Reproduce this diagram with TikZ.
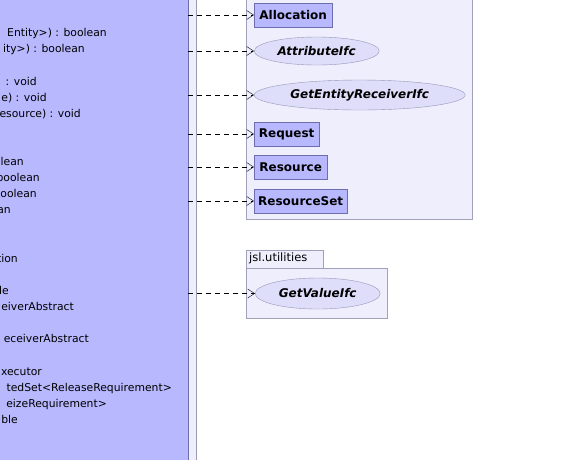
\documentclass[tikz,border=0pt]{standalone}
\usepackage{fontspec}
\setmainfont{DejaVu Sans}
\usetikzlibrary{shapes.geometric,arrows.meta}
\definecolor{classblue}{RGB}{184,184,255}
\definecolor{panelline}{RGB}{110,110,170}
\definecolor{stripfill}{RGB}{238,238,252}
\definecolor{stripline}{RGB}{155,155,180}
\definecolor{pkgfill}{RGB}{238,238,252}
\definecolor{pkgline}{RGB}{160,160,184}
\definecolor{boxline}{RGB}{110,110,175}
\definecolor{ifcfill}{RGB}{222,222,250}
\definecolor{ifcline}{RGB}{150,150,185}

\begin{document}
\begin{tikzpicture}[x=1pt,y=-1pt,
        cls/.style={draw=boxline,fill=classblue,inner sep=0pt,minimum height=24pt,anchor=west,font=\fontsize{12}{14}\bfseries},
        ifc/.style={ellipse,draw=ifcline,fill=ifcfill,inner sep=0pt,anchor=west,font=\fontsize{12}{14}\bfseries\itshape},
        pkg/.style={draw=pkgline,fill=pkgfill,inner sep=0pt},
        op/.style={anchor=base east,inner sep=0pt,font=\fontsize{10.8}{13}\selectfont},
        dep/.style={dash pattern=on 5pt off 4pt,-{Straight Barb[length=7pt,width=9pt]}}]
        \useasboundingbox (0,0) rectangle (561,459);
        \clip (0,0) rectangle (561,459);
        % class body on the left
        \node[fill=stripfill,draw=stripline,inner sep=0pt,minimum width=8pt,minimum height=480pt,anchor=north west] (strip) at (188,-10) {};
        \node[fill=classblue,draw=panelline,inner sep=0pt,minimum width=200pt,minimum height=480pt,anchor=north east] (engine) at (188,-10) {};
        \node[op] (t_1)  at (107,36)  {Entity>) : boolean};
        \node[op] (t_2)  at (85,52)   {ity>) : boolean};
        \node[op] (t_3)  at (37,85)   {: void};
        \node[op] (t_4)  at (47,101)  {e) : void};
        \node[op] (t_5)  at (81,117)  {esource) : void};
        \node[op] (t_6)  at (24,165)  {lean};
        \node[op] (t_7)  at (40,181)  {boolean};
        \node[op] (t_8)  at (37,197)  {oolean};
        \node[op] (t_9)  at (11,213)  {an};
        \node[op] (t_10) at (18,262)  {tion};
        \node[op] (t_11) at (9,294)   {le};
        \node[op] (t_12) at (74,310)  {eiverAbstract};
        \node[op] (t_13) at (89,342)  {eceiverAbstract};
        \node[op] (t_14) at (42,375)  {xecutor};
        \node[op] (t_15) at (172,391) {tedSet<ReleaseRequirement>};
        \node[op] (t_16) at (107,407) {eizeRequirement>};
        \node[op] (t_17) at (18,423)  {ble};
        % packages
        \node[pkg,minimum width=226pt,minimum height=240pt,anchor=south west] (respkg) at (246,219.5) {};
        \node[pkg,minimum width=141pt,minimum height=50pt,anchor=north west] (utilpkg) at (246,268) {};
        \node[pkg,minimum height=18pt,text width=71pt,inner xsep=3pt,align=left,anchor=south west,font=\fontsize{11.5}{13}\selectfont] (utiltab) at (utilpkg.north west) {jsl.utilities};
        % used types
        \node[cls,minimum width=78pt] (alloc)    at (254,15)  {Allocation};
        \node[ifc,minimum width=125pt,minimum height=28pt] (attr) at (254,51) {AttributeIfc};
        \node[ifc,minimum width=211pt,minimum height=30pt] (getrec) at (254,95) {GetEntityReceiverIfc};
        \node[cls,minimum width=65pt] (request)  at (254,134) {Request};
        \node[cls,minimum width=73pt] (resource) at (254,167) {Resource};
        \node[cls,minimum width=93pt] (resset)   at (254,201) {ResourceSet};
        \node[ifc,minimum width=125pt,minimum height=31pt] (getval) at (255,293.5) {GetValueIfc};
        \path[dep]
        (alloc -| engine.east)    edge (alloc)
        (attr -| engine.east)     edge (attr)
        (getrec -| engine.east)   edge (getrec)
        (request -| engine.east)  edge (request)
        (resource -| engine.east) edge (resource)
        (resset -| engine.east)   edge (resset)
        (getval -| engine.east)   edge (getval);
    \end{tikzpicture}
\end{document}
